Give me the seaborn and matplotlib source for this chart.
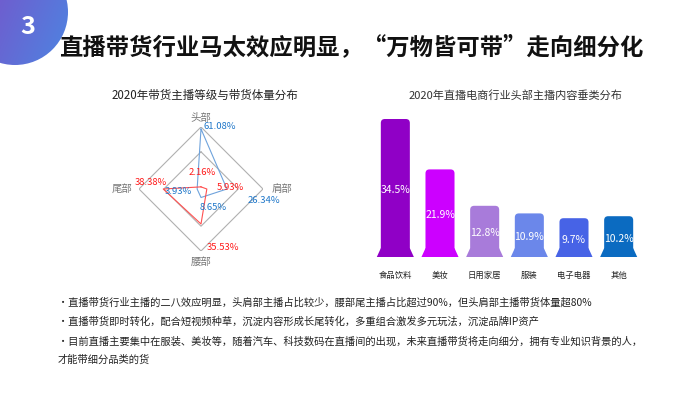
import numpy as np
import pandas as pd
import matplotlib
matplotlib.use("Agg")
import matplotlib.pyplot as plt
import seaborn as sns
from matplotlib.patches import Circle, FancyBboxPatch, Polygon
from matplotlib.colors import LinearSegmentedColormap

sns.set_theme(style="white")
plt.rcParams['font.family'] = ['Noto Sans CJK SC', 'DejaVu Sans']

# 雷达图：主播等级
tiers = ['头部', '肩部', '腰部', '尾部']
anchor_share = [61.08, 26.34, 8.65, 3.93]   # 蓝线
sales_share = [2.16, 5.93, 35.53, 38.38]    # 红线

# 柱状图：头部主播内容垂类
categories = ['食品饮料', '美妆', '日用家居', '服装', '电子电器', '其他']
cat_share = [34.5, 21.9, 12.8, 10.9, 9.7, 10.2]
bar_colors = ['#9000C6', '#CC00FF', '#A87BDA', '#6B87EA', '#4763E6', '#0B6BC1']

title = '直播带货行业马太效应明显，“万物皆可带”走向细分化'
radar_title = '2020年带货主播等级与带货体量分布'
bar_title = '2020年直播电商行业头部主播内容垂类分布'
notes = [
    '·直播带货行业主播的二八效应明显，头肩部主播占比较少，腰部尾主播占比超过90%，但头肩部主播带货体量超80%',
    '·直播带货即时转化，配合短视频种草，沉淀内容形成长尾转化，多重组合激发多元玩法，沉淀品牌IP资产',
    '·目前直播主要集中在服装、美妆等，随着汽车、科技数码在直播间的出现，未来直播带货将走向细分，拥有专业知识背景的人，',
    '才能带细分品类的货',
]

W, H = 700, 393
fig = plt.figure(figsize=(7, 3.93), dpi=100)
fig.patch.set_facecolor('white')

# 背景层（像素坐标）
bg = fig.add_axes([0, 0, 1, 1])
gx, gy = np.meshgrid(np.linspace(0, 1, 200), np.linspace(0, 1, 200))
cmap = LinearSegmentedColormap.from_list('blob', ['#8148C4', '#4C86E2'])
im = bg.imshow(0.7 * gx + 0.3 * gy, extent=(-40, 70, 70, -40), cmap=cmap, aspect='auto')
circ = Circle((15, 12), 53, facecolor='none', edgecolor='none')
bg.add_patch(circ)
im.set_clip_path(circ)
bg.set_xlim(0, W)
bg.set_ylim(H, 0)
bg.axis('off')

bg.text(28, 27, '3', color='white', fontsize=18, fontweight='bold', ha='center', va='center')
bg.text(59, 47, title, fontsize=16.8, fontweight='bold', color='#111111', ha='left', va='center')
bg.text(205, 95, radar_title, fontsize=8.3, color='#222222', ha='center', va='center')
bg.text(515, 95, bar_title, fontsize=8, color='#333333', ha='center', va='center')
for i, line in enumerate(notes):
    bg.text(58, 303 + i * 19, line, fontsize=7.4, color='#222222', ha='left', va='center')

# ---- 雷达图 ----
cx, cy, R = 201, 189, 62
rmax = 63
rax = fig.add_axes([(cx - R) / W, 1 - (cy + R) / H, 2 * R / W, 2 * R / H])
rax.set_xlim(-rmax, rmax)
rax.set_ylim(-rmax, rmax)
rax.axis('off')
ang = np.arange(len(tiers)) * np.pi / 2

def to_xy(vals):
    v = np.asarray(vals, dtype=float)
    x = v * np.sin(ang)
    y = v * np.cos(ang)
    return np.append(x, x[0]), np.append(y, y[0])

for lvl in [0.6 * rmax, rmax]:
    gxr, gyr = to_xy([lvl] * 4)
    rax.plot(gxr, gyr, color='#B0B0B0', lw=0.8)

bxs, bys = to_xy(anchor_share)
rxs, rys = to_xy(sales_share)
rax.plot(bxs, bys, color='#6FA3DC', lw=0.8)
rax.plot(rxs, rys, color='#FF5050', lw=0.8)

blue_off = [(1.5, 2, 'left'), (15, -8, 'left'), (-0.7, -7, 'left'), (-4, -2, 'right')]
red_off = [(1, 10, 'center'), (7, 1, 'left'), (4, -17, 'left'), (-9, 5, 'center')]
for i in range(4):
    dx, dy, ha = blue_off[i]
    rax.annotate(f'{anchor_share[i]:.2f}%', (bxs[i], bys[i]), xytext=(dx, dy),
                 textcoords='offset points', ha=ha, va='center', fontsize=6.8, color='#1F77C9')
    dx, dy, ha = red_off[i]
    rax.annotate(f'{sales_share[i]:.2f}%', (rxs[i], rys[i]), xytext=(dx, dy),
                 textcoords='offset points', ha=ha, va='center', fontsize=6.8, color='#FF1A1A')

lab_off = [(0, 6.5), (14, 0), (0, -8), (-12, 0)]
oxs, oys = to_xy([rmax] * 4)
for i, t in enumerate(tiers):
    rax.annotate(t, (oxs[i], oys[i]), xytext=lab_off[i], textcoords='offset points',
                 ha='center', va='center', fontsize=7.5, color='#777777')

# ---- 柱状图 ----
bl, bb, bw, bh = 373, 257, 268, 144
bax = fig.add_axes([bl / W, 1 - bb / H, bw / W, bh / H])
df = pd.DataFrame({'cat': categories, 'share': cat_share})
sns.barplot(data=df, x='cat', y='share', hue='cat', palette=bar_colors,
            width=0.65, legend=False, ax=bax, saturation=1)
ytop = 36
bax.set_xlim(-0.5, 5.5)
bax.set_ylim(0, ytop)
aspect = (ytop / bh) / (6 / bw)

for p, val in zip(list(bax.patches), cat_share):
    x0, w, h = p.get_x(), p.get_width(), p.get_height()
    col = p.get_facecolor()
    p.set_visible(False)
    bax.add_patch(FancyBboxPatch((x0, 0), w, h, boxstyle='round,pad=0,rounding_size=0.09',
                                 mutation_aspect=aspect, facecolor=col, edgecolor='none'))
    bax.add_patch(Polygon([(x0 - 0.09, 0), (x0 + w + 0.09, 0), (x0 + w, 2.2), (x0, 2.2)],
                          closed=True, facecolor=col, edgecolor='none'))
    bax.text(x0 + w / 2, h / 2 - 0.5, f'{val}%', ha='center', va='center',
             fontsize=7.5, color='white')

bax.set_xlabel('')
bax.set_ylabel('')
bax.set_yticks([])
bax.tick_params(axis='x', length=0, labelsize=6, colors='#222222', pad=10)
sns.despine(ax=bax, left=True, bottom=True)

fig.savefig('out.png', dpi=100, facecolor='white')
